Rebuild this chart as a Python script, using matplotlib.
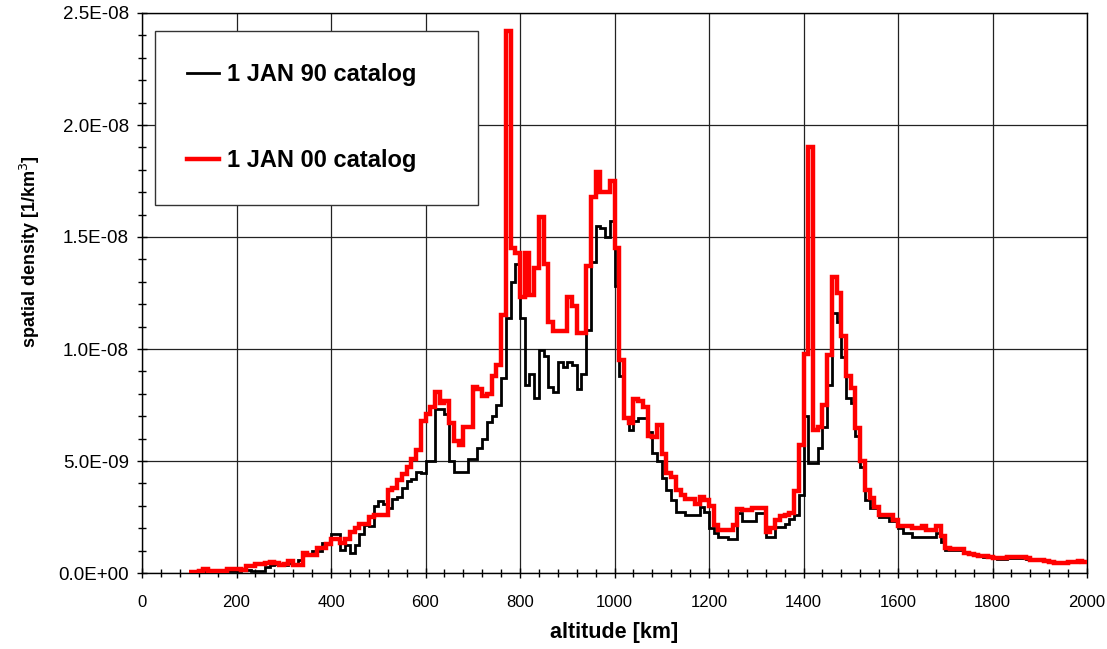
import numpy as np
import matplotlib
matplotlib.use('Agg')
import matplotlib.pyplot as plt
from matplotlib.ticker import MultipleLocator, FuncFormatter

# altitude bins, 10 km wide, from 100 to 2000 km
edges = np.arange(100, 2001, 10)

# spatial density per bin, in units of 1e-9 / km^3
jan90 = [
    0.02, 0.02, 0.03, 0.05, 0.05, 0.05, 0.05, 0.05, 0.10, 0.10,   # 100-190
    0.10, 0.15, 0.15, 0.10, 0.10, 0.10, 0.27, 0.35, 0.40, 0.35,   # 200-290
    0.35, 0.45, 0.40, 0.60, 0.80, 0.80, 1.00, 1.00, 1.33, 1.36,   # 300-390
    1.76, 1.76, 1.03, 1.25, 0.88, 1.25, 1.76, 2.13, 2.10, 3.00,   # 400-490
    3.20, 3.10, 2.90, 3.30, 3.40, 3.80, 4.10, 4.20, 4.50, 4.45,   # 500-590
    5.00, 5.00, 7.30, 7.30, 7.10, 5.00, 4.50, 4.50, 4.50, 5.10,   # 600-690
    5.10, 5.60, 6.00, 6.75, 7.00, 7.50, 8.70, 11.4, 13.0, 13.8,   # 700-790
    11.4, 8.40, 8.90, 7.80, 9.95, 9.70, 8.30, 8.10, 9.40, 9.20,   # 800-890
    9.40, 9.30, 8.20, 8.90, 10.85, 13.9, 15.5, 15.4, 15.0, 15.7,  # 900-990
    12.8, 8.80, 6.90, 6.40, 6.80, 6.90, 6.90, 6.30, 5.35, 5.00,   # 1000-1090
    4.23, 3.70, 3.25, 2.74, 2.74, 2.59, 2.59, 2.59, 2.95, 2.74,   # 1100-1190
    2.00, 1.77, 1.60, 1.60, 1.50, 1.50, 2.70, 2.34, 2.34, 2.34,   # 1200-1290
    2.70, 2.70, 1.62, 1.62, 2.07, 2.07, 2.20, 2.40, 2.57, 3.48,   # 1300-1390
    7.00, 4.90, 4.90, 5.60, 6.50, 8.40, 11.6, 11.2, 9.66, 7.80,   # 1400-1490
    7.60, 6.10, 4.75, 3.26, 2.90, 2.90, 2.50, 2.50, 2.30, 2.30,   # 1500-1590
    2.00, 1.77, 1.77, 1.62, 1.60, 1.60, 1.60, 1.60, 1.77, 1.40,   # 1600-1690
    1.04, 1.03, 1.03, 1.03, 0.90, 0.85, 0.80, 0.75, 0.72, 0.70,   # 1700-1790
    0.65, 0.62, 0.62, 0.65, 0.65, 0.65, 0.65, 0.62, 0.58, 0.58,   # 1800-1890
    0.58, 0.52, 0.48, 0.45, 0.45, 0.45, 0.48, 0.48, 0.50, 0.48,   # 1900-1990
]

jan00 = [
    0.05, 0.05, 0.10, 0.16, 0.08, 0.08, 0.10, 0.10, 0.20, 0.20,   # 100-190
    0.20, 0.12, 0.30, 0.30, 0.40, 0.40, 0.45, 0.50, 0.45, 0.35,   # 200-290
    0.40, 0.54, 0.35, 0.35, 0.90, 0.80, 0.80, 1.10, 1.10, 1.30,   # 300-390
    1.50, 1.50, 1.35, 1.50, 1.85, 2.00, 2.20, 2.20, 2.50, 2.60,   # 400-490
    2.60, 2.60, 3.70, 3.80, 4.15, 4.40, 4.75, 5.10, 5.50, 6.80,   # 500-590
    7.10, 7.40, 8.10, 7.60, 7.70, 6.70, 5.90, 5.70, 6.50, 6.50,   # 600-690
    8.30, 8.20, 7.90, 8.00, 8.80, 9.30, 11.5, 24.2, 14.5, 14.3,   # 700-790
    12.3, 14.3, 12.4, 13.6, 15.9, 13.8, 11.2, 10.8, 10.8, 10.8,   # 800-890
    12.3, 11.9, 10.7, 10.7, 13.7, 16.8, 17.9, 17.0, 17.0, 17.5,   # 900-990
    14.5, 9.50, 6.90, 6.70, 7.75, 7.70, 7.40, 6.10, 6.05, 6.60,   # 1000-1090
    5.30, 4.45, 4.27, 3.70, 3.50, 3.30, 3.30, 3.10, 3.40, 3.25,   # 1100-1190
    3.00, 2.15, 1.92, 1.92, 1.92, 2.14, 2.84, 2.80, 2.80, 2.90,   # 1200-1290
    2.90, 2.90, 1.84, 2.00, 2.37, 2.54, 2.60, 2.70, 3.65, 5.70,   # 1300-1390
    9.78, 19.0, 6.40, 6.50, 7.50, 9.73, 13.2, 12.5, 10.56, 8.80,  # 1400-1490
    8.27, 6.46, 5.00, 3.70, 3.33, 2.96, 2.60, 2.60, 2.59, 2.37,   # 1500-1590
    2.10, 2.10, 2.10, 2.00, 2.00, 2.08, 1.93, 1.93, 2.08, 1.64,   # 1600-1690
    1.10, 1.07, 1.07, 1.07, 0.90, 0.85, 0.80, 0.78, 0.76, 0.70,   # 1700-1790
    0.65, 0.65, 0.65, 0.70, 0.70, 0.70, 0.70, 0.65, 0.60, 0.60,   # 1800-1890
    0.60, 0.55, 0.50, 0.46, 0.46, 0.46, 0.50, 0.50, 0.52, 0.50,   # 1900-1990
]

labels = ['1 JAN 90 catalog', '1 JAN 00 catalog']

plt.rcParams['font.family'] = ['Liberation Sans', 'DejaVu Sans']

fig = plt.figure(figsize=(11.07, 6.49), dpi=100)
ax = fig.add_axes([142 / 1107, 76 / 649, 945 / 1107, 560 / 649])

l90 = ax.stairs(np.array(jan90) * 1e-9, edges, baseline=None,
                color='black', lw=2.0, label=labels[0], zorder=3)
l00 = ax.stairs(np.array(jan00) * 1e-9, edges, baseline=None,
                color='#ff0000', lw=3.2, label=labels[1], zorder=4)

ax.set_xlim(0, 2000)
ax.set_ylim(0, 2.5e-8)
ax.xaxis.set_major_locator(MultipleLocator(200))
ax.xaxis.set_minor_locator(MultipleLocator(40))
ax.yaxis.set_major_locator(MultipleLocator(5e-9))
ax.yaxis.set_minor_locator(MultipleLocator(1e-9))
ax.yaxis.set_major_formatter(FuncFormatter(lambda v, p: f'{v:.1E}'))

ax.grid(True, which='major', color='#222222', lw=0.9)
for s in ax.spines.values():
    s.set_linewidth(1.0)
ax.tick_params(which='both', direction='inout', width=1.0)
ax.tick_params(which='major', length=7)
ax.tick_params(which='minor', length=6)
ax.tick_params(axis='y', labelsize=13.5, pad=6)
ax.tick_params(axis='x', labelsize=12, pad=12)

ax.set_xlabel('altitude [km]', fontsize=15.5, fontweight='bold')
ax.xaxis.set_label_coords(0.5, -49 / 560)
ax.set_ylabel('spatial density [1/km$^3$]', fontsize=13, fontweight='bold')
ax.yaxis.set_label_coords(-100 / 945, (573 - 252) / 560)

leg = ax.legend(handles=[l90, l00], loc='upper left',
                bbox_to_anchor=(13 / 945, 0, 323 / 945, 1 - 18 / 560),
                mode='expand', borderaxespad=0, fancybox=False, framealpha=1,
                edgecolor='#333333', prop={'size': 17, 'weight': 'bold'},
                borderpad=1.36, labelspacing=2.68, handlelength=1.36,
                handletextpad=0.34)
leg.get_frame().set_linewidth(1.0)

fig.savefig('out.png', dpi=100)
